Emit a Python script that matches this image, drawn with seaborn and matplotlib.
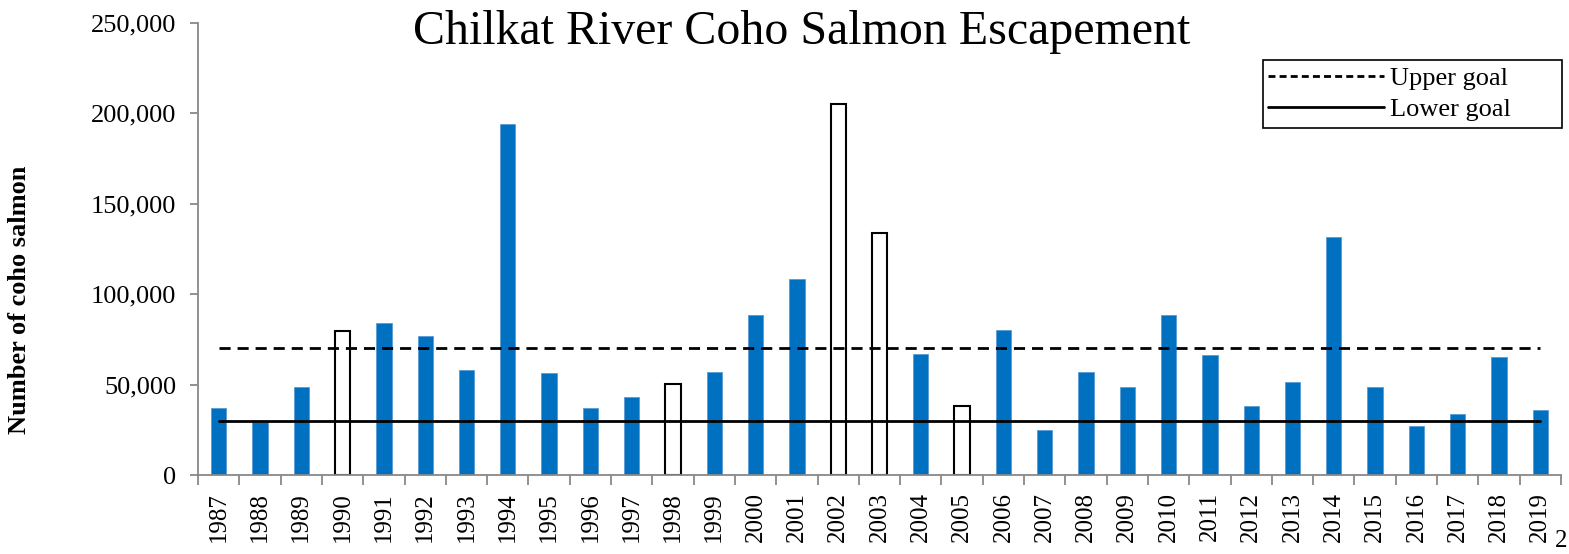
import matplotlib
matplotlib.use("Agg")
import matplotlib.pyplot as plt
import seaborn as sns
from matplotlib.lines import Line2D
from matplotlib.patches import Rectangle
from matplotlib.ticker import FuncFormatter, FixedLocator

# escapement counts
years = list(range(1987, 2020))
counts = [36800, 29500, 48400, 79700, 83900, 77100, 57800, 194300, 56300, 36800,
          43000, 50400, 56700, 88300, 108200, 205300, 134100, 67200, 38300, 80400,
          25000, 57000, 48600, 88700, 66200, 38300, 51700, 131900, 48600, 27200,
          33700, 65500, 35900]
hollow_years = [1990, 1998, 2002, 2003, 2005]  # drawn as outlined bars
upper_goal = 70000
lower_goal = 30000

sns.set_style("white")
plt.rcParams["font.family"] = ["Liberation Serif", "DejaVu Serif"]
plt.rcParams["text.color"] = "black"
plt.rcParams["xtick.labelcolor"] = "black"
plt.rcParams["ytick.labelcolor"] = "black"

W, H = 1569, 554
fig = plt.figure(figsize=(W / 100, H / 100), dpi=100)
ax = fig.add_axes([198 / W, 1 - 475 / H, (1561 - 198) / W, (475 - 23) / H])

blue = "#0070C0"
labels = [str(y) for y in years]
pal = {str(y): ("white" if y in hollow_years else blue) for y in years}
sns.barplot(x=labels, y=counts, hue=labels, palette=pal, legend=False,
            width=0.37, ax=ax, saturation=1)
for patch, y in zip(ax.patches, years):
    if y in hollow_years:
        patch.set_edgecolor("black")
        patch.set_linewidth(1.5)
    else:
        patch.set_edgecolor("#5b9bd5")
        patch.set_linewidth(0.6)

n = len(years)
dash = (0, (4, 2.5))
ax.plot([0, n - 1], [upper_goal, upper_goal], color="black", lw=2, ls=dash)
ax.plot([0, n - 1], [lower_goal, lower_goal], color="black", lw=2)

ax.set_xlim(-0.5, n - 0.5)
ax.set_ylim(0, 250000)
ax.set_yticks(range(0, 250001, 50000))
ax.yaxis.set_major_formatter(FuncFormatter(lambda v, p: f"{int(v):,}"))

for s in ["top", "right"]:
    ax.spines[s].set_visible(False)
for s in ["left", "bottom"]:
    ax.spines[s].set_color("#888888")
    ax.spines[s].set_linewidth(1.3)

ax.tick_params(axis="y", left=True, length=6, width=1.3, color="#888888",
               labelsize=19, pad=9.5)
ax.tick_params(axis="x", which="major", length=0, labelsize=18, pad=12.5, rotation=90)
ax.xaxis.set_minor_locator(FixedLocator([i - 0.5 for i in range(n + 1)]))
ax.tick_params(axis="x", which="minor", bottom=True, length=7, width=1.3, color="#888888")

ax.set_xlabel("")
fig.text(20 / W, 1 - 300 / H, "Number of coho salmon", rotation=90,
         ha="center", va="center", fontsize=19, fontweight="bold")
fig.text(802 / W, 1 - 32 / H, "Chilkat River Coho Salmon Escapement",
         ha="center", va="center", fontsize=34.5)

# legend box drawn separately so it keeps the wide right margin of the original
fig.patches.append(Rectangle((1263 / W, 1 - 128 / H), (1562 - 1263) / W, 68 / H,
                             transform=fig.transFigure, fill=False,
                             edgecolor="black", lw=1.2))
handles = [Line2D([], [], color="black", lw=2, ls=(0, (2.5, 1.5))),
           Line2D([], [], color="black", lw=2)]
ax.legend(handles, ["Upper goal", "Lower goal"], loc="upper left",
          bbox_to_anchor=(1263 / W, 1 - 61 / H), bbox_transform=fig.transFigure,
          fontsize=19, frameon=False, handlelength=4.4,
          handletextpad=0.2, borderpad=0.2, labelspacing=0.3, borderaxespad=0)

# page number cut off at the corner
fig.text(1567 / W, 1 - 552 / H, "2", ha="right", va="bottom", fontsize=18)

fig.savefig("out.png", dpi=100)
